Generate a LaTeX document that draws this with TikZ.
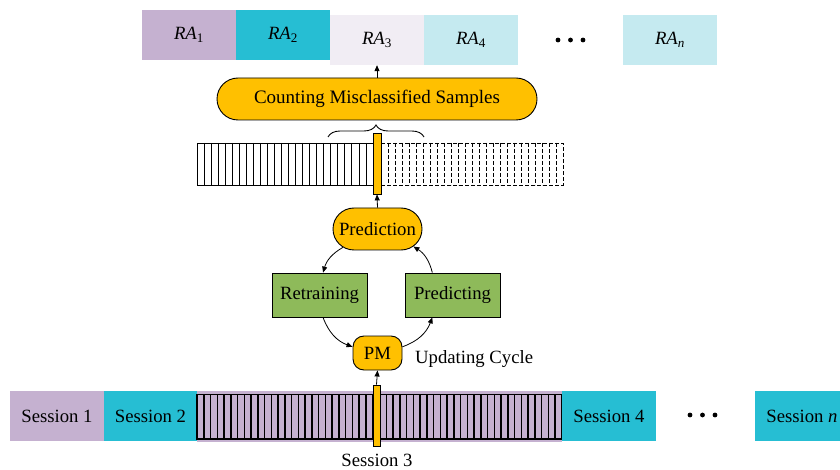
\documentclass[tikz,border=0pt]{standalone}
\usepackage{fontspec}
\setmainfont{Liberation Serif}
\usetikzlibrary{arrows.meta,shapes.misc,decorations.pathreplacing,calc}

\definecolor{lavC}{HTML}{C5B1D0}
\definecolor{cyanC}{HTML}{26BED3}
\definecolor{paleLav}{HTML}{F1EDF4}
\definecolor{paleCyan}{HTML}{C5EAF0}
\definecolor{orangeC}{HTML}{FFC000}
\definecolor{greenC}{HTML}{8EBA5A}

\begin{document}
\begin{tikzpicture}[x=1pt,y=-1pt,
  lbl/.style={font=\fontsize{18.7}{22}\selectfont, inner sep=0pt, text=black},
  blk/.style={lbl, rectangle, minimum width=94pt, minimum height=50pt, draw=none},
  pill/.style={lbl, rounded rectangle, draw=black, line width=0.9pt, fill=orangeC},
  greenbox/.style={lbl, rectangle, draw=black, line width=0.8pt, fill=greenC,
    minimum width=95pt, minimum height=44pt},
  obar/.style={rectangle, draw=black, line width=0.8pt, fill=orangeC, inner sep=0pt},
  arr/.style={-{Triangle[length=6pt,width=5pt]}, line width=0.8pt},
  pend/.style={line width=0.8pt, dash pattern=on 4pt off 2pt},
  ra/.style={blk}]
\useasboundingbox (0,0) rectangle (840,470);

% result blocks RA_1 ... RA_n
\node[ra, fill=lavC]     (ra1) at (189,35) {{\itshape RA}\textsubscript{1}};
\node[ra, fill=cyanC]    (ra2) at (283,35) {{\itshape RA}\textsubscript{2}};
\node[ra, fill=paleLav]  (ra3) at (377,40) {{\itshape RA}\textsubscript{3}};
\node[ra, fill=paleCyan] (ra4) at (471,40) {{\itshape RA}\textsubscript{4}};
\node[ra, fill=paleCyan] (ran) at (670,40) {{\itshape RA}\textsubscript{\itshape n}};
\foreach \x in {558,570.5,583} \fill (\x,40) circle (2.4);

% counting stage
\node[pill, font=\fontsize{19}{22}\selectfont, minimum width=320pt, minimum height=42pt]
  (count) at (377,99) {Counting Misclassified Samples};
\draw[arr] (count.north) -- (ra3.south);

\draw[line width=0.9pt, decorate, decoration={brace, amplitude=12pt}]
  (328,137) -- (424,137);

% sample strip: processed part (solid) and pending part (dashed)
\draw[line width=0.8pt] (197,143) rectangle (373,185);
\foreach \i in {1,...,24} \draw[line width=0.8pt] ({197+\i*7.04},143) -- ({197+\i*7.04},185);
\draw[pend] (381,143) rectangle (563,185);
\foreach \i in {1,...,25} \draw[pend] ({381+\i*7},143) -- ({381+\i*7},185);
\node[obar, minimum width=8pt, minimum height=61pt] (bar1) at (377,163.5) {};

% updating cycle
\node[pill, minimum width=89pt, minimum height=42pt] (pred) at (377.5,229) {Prediction};
\node[greenbox] (retr) at (319.5,295) {Retraining};
\node[greenbox] (ping) at (452.5,295) {Predicting};
\node[lbl, rectangle, rounded corners=11pt, draw=black, line width=0.9pt, fill=orangeC,
  minimum width=49pt, minimum height=34pt] (pm) at (377.5,353) {PM};
\node[lbl, anchor=west] (cyc) at (415,359) {Updating Cycle};

\draw[arr] (pred.north) -- (bar1.south);
\draw[arr] (pred.208) to[bend right=22] (retr.81);
\draw[arr] (retr.279) to[bend right=25] (pm.166);
\draw[arr] (pm.14) to[bend right=25] (ping.228);
\draw[arr] (ping.132) to[bend right=22] (pred.334);

% session stream
\node[blk, fill=lavC]  (s1) at (57,416) {Session 1};
\node[blk, fill=cyanC, minimum width=93pt] (s2) at (150.5,416) {Session 2};
\fill[lavC] (197,391) rectangle (562,442);
\draw[line width=1.2pt] (197,394.5) rectangle (562,439);
\foreach \i in {1,...,53} \draw[line width=1.5pt] ({197+\i*6.759},394.5) -- ({197+\i*6.759},439);
\node[obar, minimum width=7pt, minimum height=61pt] (bar2) at (376.5,415.5) {};
\node[lbl] (s3) at (377,460) {Session 3};
\node[blk, fill=cyanC] (s4) at (609,416) {Session 4};
\node[blk, fill=cyanC] (sn) at (802,416) {Session {\itshape n}};
\foreach \x in {690,702.5,715} \fill (\x,415) circle (2.4);

\draw[arr] (bar2.north) -- (pm.south);
\end{tikzpicture}
\end{document}
